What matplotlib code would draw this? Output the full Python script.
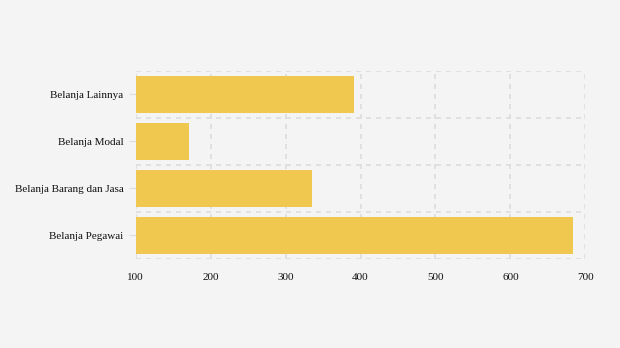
import matplotlib.pyplot as plt
import numpy as np

categories = ["Belanja Pegawai", "Belanja Barang dan Jasa", "Belanja Modal", "Belanja Lainnya"]
values = [684, 335, 171, 391]
x_ticks = [100, 200, 300, 400, 500, 600, 700]

plt.rcParams['font.family'] = ['Liberation Serif', 'DejaVu Serif']

fig = plt.figure(figsize=(6.2, 3.48), dpi=100, facecolor="#f4f4f4")
ax = fig.add_axes([0.219, 0.256, 0.725, 0.54])
ax.set_facecolor("#f4f4f4")

y = np.arange(len(categories))
ax.barh(y, values, height=0.78, color="#f0c850", zorder=3)

ax.set_xlim(100, 700)
ax.set_ylim(-0.5, len(categories) - 0.5)
ax.set_xticks(x_ticks)
ax.set_yticks(y)
ax.set_yticklabels(categories)
ax.set_yticks(np.arange(-0.5, len(categories)), minor=True)

ax.grid(axis="x", which="major", color="#dddddd", linestyle=(0, (3, 3)), linewidth=1.2, zorder=0)
ax.grid(axis="y", which="minor", color="#dddddd", linestyle=(0, (3, 3)), linewidth=1.2, zorder=0)
ax.grid(axis="y", which="major", visible=False)

for s in ax.spines.values():
    s.set_visible(False)

ax.tick_params(axis="x", length=0, labelsize=8, pad=10.5, colors="#111111")
ax.tick_params(axis="y", which="major", length=5, color="#dddddd", labelsize=8, pad=4, labelcolor="#111111")
ax.tick_params(axis="y", which="minor", length=0)

fig.savefig("out.png", dpi=100, facecolor=fig.get_facecolor())
